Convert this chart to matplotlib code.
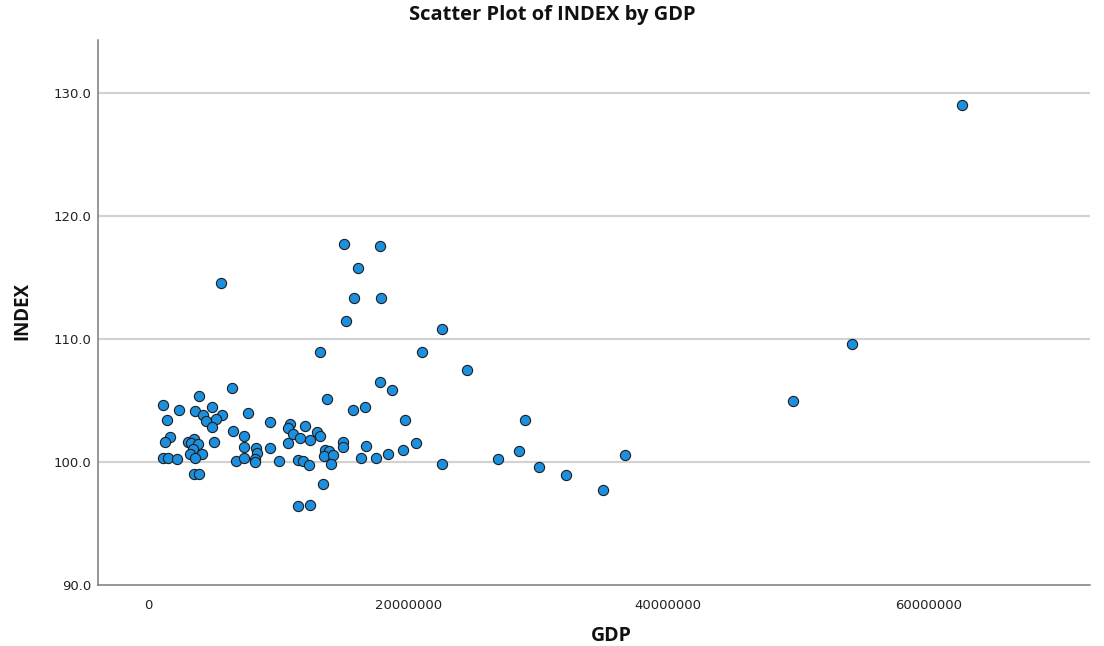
import matplotlib
matplotlib.use("Agg")
import matplotlib.pyplot as plt
from matplotlib.ticker import FuncFormatter
import numpy as np

# GDP in millions, INDEX values
gdp_millions = [
    1.12, 2.35, 3.92, 6.47, 1.41, 3.62, 4.20, 4.41, 4.93, 5.65,
    5.23, 4.92, 7.66, 1.69, 1.28, 3.10, 3.52, 3.29, 3.87, 3.45,
    3.18, 4.14, 3.64, 5.10, 6.55, 7.35, 7.39, 1.12, 1.54, 2.22,
    6.77, 7.38, 3.56, 3.92, 8.29, 8.35, 8.19, 8.19, 9.37, 9.37,
    10.10, 10.91, 10.79, 11.12, 12.06, 10.72, 11.68, 12.45, 13.01, 13.24,
    11.55, 11.93, 12.39, 13.58, 13.91, 13.52, 14.24, 14.10, 15.01, 15.01,
    16.37, 17.56, 18.47, 19.62, 20.58, 22.62, 13.45, 11.56, 12.41, 13.72,
    15.73, 16.68, 16.75, 17.85, 18.77, 19.77, 13.22, 21.08, 22.58, 15.23,
    15.82, 17.92, 16.12, 15.08, 17.85, 5.58, 24.55, 29.02, 26.93, 28.51,
    30.06, 32.16, 35.02, 36.70, 49.58, 54.16, 62.58,
]
index_values = [
    104.67, 104.25, 105.36, 106.06, 103.44, 104.14, 103.87, 103.33, 104.47, 103.87,
    103.50, 102.85, 103.98, 102.08, 101.67, 101.67, 101.85, 101.53, 101.48, 101.10,
    100.65, 100.67, 100.34, 101.67, 102.57, 102.16, 101.26, 100.34, 100.34, 100.24,
    100.06, 100.34, 99.04, 99.04, 101.16, 100.77, 100.24, 100.02, 103.26, 101.14,
    100.06, 103.10, 102.75, 102.30, 102.97, 101.56, 101.94, 101.83, 102.49, 102.16,
    100.16, 100.06, 99.76, 100.96, 100.94, 100.51, 100.55, 99.85, 101.61, 101.21,
    100.33, 100.33, 100.67, 100.98, 101.56, 99.85, 98.22, 96.45, 96.54, 105.15,
    104.25, 104.47, 101.34, 106.54, 105.84, 103.45, 108.96, 108.96, 110.86, 111.48,
    113.35, 113.35, 115.77, 117.78, 117.59, 114.57, 107.46, 103.46, 100.24, 100.94,
    99.57, 98.96, 97.73, 100.55, 105.01, 109.63, 129.08,
]
x_ticks = [0, 20000000, 40000000, 60000000]
y_ticks = [90, 100, 110, 120, 130]

gdp = np.array(gdp_millions) * 1e6
index = np.array(index_values)

fig = plt.figure(figsize=(11.04, 6.46), dpi=100)
ax = fig.add_axes([98 / 1104, 1 - 585 / 646, (1090 - 98) / 1104, (585 - 40) / 646])

ax.scatter(gdp, index, s=54, facecolor="#1c8fdf", edgecolor="#1e1e1e",
           linewidths=0.8, zorder=3)

ax.set_xlim(-3.86e6, 72.45e6)
ax.set_ylim(90, 134.35)
ax.set_xticks(x_ticks)
ax.set_yticks(y_ticks)
ax.xaxis.set_major_formatter(FuncFormatter(lambda v, p: f"{int(round(v))}"))
ax.yaxis.set_major_formatter(FuncFormatter(lambda v, p: f"{v:.1f}"))
ax.tick_params(axis="both", length=0, labelsize=9.5, colors="#222222")
ax.tick_params(axis="x", pad=10)
ax.tick_params(axis="y", pad=5)

for y in y_ticks[1:]:
    ax.axhline(y, color="#d2d2d2", linewidth=1.6, zorder=1)

for side in ("top", "right"):
    ax.spines[side].set_visible(False)
for side in ("left", "bottom"):
    ax.spines[side].set_color("#7a7a7a")
    ax.spines[side].set_linewidth(1.1)

fig.text(552 / 1104, 1 - 15 / 646, "Scatter Plot of INDEX by GDP", ha="center",
         va="center", fontsize=14.5, fontweight="bold", family="Open Sans", color="#111111")
fig.text(22 / 1104, 1 - 311 / 646, "INDEX", ha="center", va="center", rotation=90,
         fontsize=13.5, fontweight="bold", family="Open Sans", color="#111111")
fig.text(611 / 1104, 1 - 636 / 646, "GDP", ha="center", va="center",
         fontsize=14, fontweight="bold", family="Open Sans", color="#111111")

fig.savefig("out.png", dpi=100)
